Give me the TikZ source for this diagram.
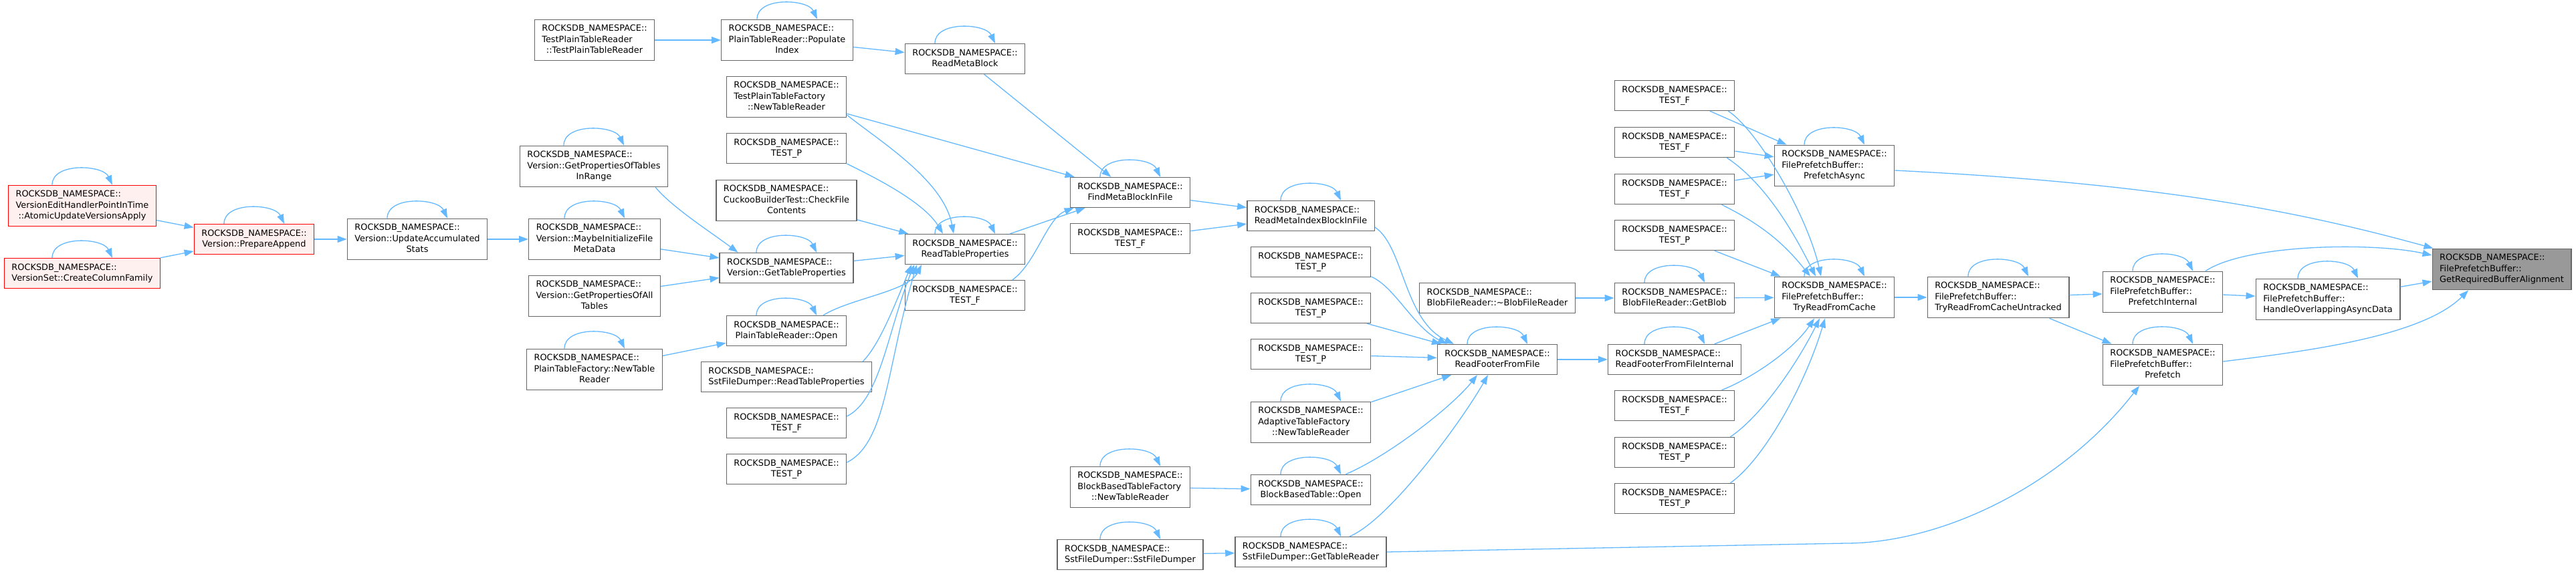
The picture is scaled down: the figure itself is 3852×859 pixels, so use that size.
\documentclass[tikz,border=0pt]{standalone}
\usepackage{fontspec}
\setmainfont{DejaVu Sans}
\usetikzlibrary{arrows.meta}
\definecolor{edgeblue}{HTML}{63B8FF}
\definecolor{boxgray}{HTML}{666666}
\definecolor{boxred}{HTML}{FF0000}
\definecolor{redfill}{HTML}{FFF0F0}
\definecolor{targetgray}{HTML}{999999}
\newcommand{\rns}{ROCKSDB\_NAMESPACE::}
\newcommand{\fnlabel}[2]{% {left lines}{centred last line}
  \begin{tabular}{@{}l@{}}#1\\\multicolumn{1}{@{}c@{}}{#2}\end{tabular}}
\newcommand{\selfloop}[1]{% {node}
  \draw[call] ([xshift=-45pt]#1.north) .. controls +(0,-34) and +(-14,-30) .. ([xshift=45pt]#1.north);}
\tikzset{
  fnbox/.style={draw=boxgray,line width=1.4pt,fill=white,inner xsep=11pt,inner ysep=6pt,
    font=\fontsize{12.9pt}{16.5pt}\selectfont},
  fnred/.style={fnbox,draw=boxred,fill=redfill},
  fntarget/.style={fnbox,fill=targetgray},
  call/.style={draw=edgeblue,line width=1.3pt,-{Triangle[length=14pt,width=10pt]}}
}

\begin{document}
\begin{tikzpicture}[x=1pt,y=-1pt]
  \useasboundingbox (0,0) rectangle (3852,859);
  % Version side
  \node[fnred] (avapply) at (123,308) {\fnlabel{\rns\\VersionEditHandlerPointInTime}{::AtomicUpdateVersionsApply}};
  \node[fnred] (createcf) at (123,409) {\fnlabel{\rns}{VersionSet::CreateColumnFamily}};
  \node[fnred] (prepapp) at (380,358) {\fnlabel{\rns}{Version::PrepareAppend}};
  \node[fnbox] (updstats) at (624,358) {\fnlabel{\rns\\Version::UpdateAccumulated}{Stats}};
  \node[fnbox] (testptr) at (889,60) {\fnlabel{\rns\\TestPlainTableReader}{::TestPlainTableReader}};
  \node[fnbox] (propsrange) at (888,249) {\fnlabel{\rns\\Version::GetPropertiesOfTables}{InRange}};
  \node[fnbox] (maybeinit) at (889,358) {\fnlabel{\rns\\Version::MaybeInitializeFile}{MetaData}};
  \node[fnbox] (propsall) at (889,443) {\fnlabel{\rns\\Version::GetPropertiesOfAll}{Tables}};
  \node[fnbox] (ptfnew) at (889,553) {\fnlabel{\rns\\PlainTableFactory::NewTable}{Reader}};
  % Table property readers
  \node[fnbox] (popindex) at (1177,60) {\fnlabel{\rns\\PlainTableReader::Populate}{Index}};
  \node[fnbox] (tptfnew) at (1176,145) {\fnlabel{\rns\\TestPlainTableFactory}{::NewTableReader}};
  \node[fnbox] (testpa) at (1176,222) {\fnlabel{\rns}{TEST\_P}};
  \node[fnbox] (checkfile) at (1176,300) {\fnlabel{\rns\\CuckooBuilderTest::CheckFile}{Contents}};
  \node[fnbox] (gettblprops) at (1176,401) {\fnlabel{\rns}{Version::GetTableProperties}};
  \node[fnbox] (ptropen) at (1176,495) {\fnlabel{\rns}{PlainTableReader::Open}};
  \node[fnbox] (sstreadprops) at (1176,564) {\fnlabel{\rns}{SstFileDumper::ReadTableProperties}};
  \node[fnbox] (testfa) at (1176,633) {\fnlabel{\rns}{TEST\_F}};
  \node[fnbox] (testpb) at (1176,702) {\fnlabel{\rns}{TEST\_P}};
  \node[fnbox] (readmeta) at (1443,88) {\fnlabel{\rns}{ReadMetaBlock}};
  \node[fnbox] (readtblprops) at (1443,373) {\fnlabel{\rns}{ReadTableProperties}};
  \node[fnbox] (testfb) at (1443,442) {\fnlabel{\rns}{TEST\_F}};
  % Meta blocks and footer
  \node[fnbox] (findmeta) at (1690,288) {\fnlabel{\rns}{FindMetaBlockInFile}};
  \node[fnbox] (testfc) at (1690,357) {\fnlabel{\rns}{TEST\_F}};
  \node[fnbox] (bbtfnew) at (1690,729) {\fnlabel{\rns\\BlockBasedTableFactory}{::NewTableReader}};
  \node[fnbox] (sstdumper) at (1690,830) {\fnlabel{\rns}{SstFileDumper::SstFileDumper}};
  \node[fnbox] (readmetaidx) at (1960,323) {\fnlabel{\rns}{ReadMetaIndexBlockInFile}};
  \node[fnbox] (testpc) at (1960,392) {\fnlabel{\rns}{TEST\_P}};
  \node[fnbox] (testpd) at (1960,461) {\fnlabel{\rns}{TEST\_P}};
  \node[fnbox] (testpe) at (1960,530) {\fnlabel{\rns}{TEST\_P}};
  \node[fnbox] (adaptive) at (1960,632) {\fnlabel{\rns\\AdaptiveTableFactory}{::NewTableReader}};
  \node[fnbox] (bbtopen) at (1960,733) {\fnlabel{\rns}{BlockBasedTable::Open}};
  \node[fnbox] (gettblreader) at (1960,826) {\fnlabel{\rns}{SstFileDumper::GetTableReader}};
  \node[fnbox] (blobdtor) at (2239,446) {\fnlabel{\rns}{BlobFileReader::\textasciitilde BlobFileReader}};
  \node[fnbox] (readfooter) at (2239,538) {\fnlabel{\rns}{ReadFooterFromFile}};
  % Prefetch buffer
  \node[fnbox] (testf1) at (2504,143) {\fnlabel{\rns}{TEST\_F}};
  \node[fnbox] (testf2) at (2504,213) {\fnlabel{\rns}{TEST\_F}};
  \node[fnbox] (testf3) at (2504,283) {\fnlabel{\rns}{TEST\_F}};
  \node[fnbox] (testp1) at (2504,352) {\fnlabel{\rns}{TEST\_P}};
  \node[fnbox] (getblob) at (2504,446) {\fnlabel{\rns}{BlobFileReader::GetBlob}};
  \node[fnbox] (readfooterint) at (2504,538) {\fnlabel{\rns}{ReadFooterFromFileInternal}};
  \node[fnbox] (testf4) at (2504,607) {\fnlabel{\rns}{TEST\_F}};
  \node[fnbox] (testp2) at (2504,677) {\fnlabel{\rns}{TEST\_P}};
  \node[fnbox] (testp3) at (2504,746) {\fnlabel{\rns}{TEST\_P}};
  \node[fnbox] (prefasync) at (2743,248) {\fnlabel{\rns\\FilePrefetchBuffer::}{PrefetchAsync}};
  \node[fnbox] (tryread) at (2743,445) {\fnlabel{\rns\\FilePrefetchBuffer::}{TryReadFromCache}};
  \node[fnbox] (tryreaduntr) at (2988,445) {\fnlabel{\rns\\FilePrefetchBuffer::}{TryReadFromCacheUntracked}};
  \node[fnbox] (prefint) at (3234,437) {\fnlabel{\rns\\FilePrefetchBuffer::}{PrefetchInternal}};
  \node[fnbox] (prefetch) at (3234,546) {\fnlabel{\rns\\FilePrefetchBuffer::}{Prefetch}};
  \node[fnbox] (overlap) at (3481,448) {\fnlabel{\rns\\FilePrefetchBuffer::}{HandleOverlappingAsyncData}};
  \node[fntarget] (bufalign) at (3741,403) {\fnlabel{\rns\\FilePrefetchBuffer::}{GetRequiredBufferAlignment}};

  % Recursive calls
  \foreach \n in {avapply,createcf,prepapp,updstats,propsrange,maybeinit,ptfnew,popindex,
    gettblprops,ptropen,readmeta,readtblprops,findmeta,readmetaidx,adaptive,bbtfnew,bbtopen,
    sstdumper,gettblreader,readfooter,getblob,readfooterint,prefasync,tryread,tryreaduntr,
    prefint,overlap,prefetch}
    {\selfloop{\n}}

  % Calls, left to right
  \draw[call] (avapply) -- (prepapp);
  \draw[call] (createcf) -- (prepapp);
  \draw[call] (prepapp) -- (updstats);
  \draw[call] (updstats) -- (maybeinit);
  \draw[call] (maybeinit) -- (gettblprops);
  \draw[call] ([xshift=-19pt]propsrange.south east) .. controls +(25,30) and +(-40,-30) .. ([xshift=28pt]gettblprops.north west);
  \draw[call] (propsall) -- (gettblprops);
  \draw[call] (ptfnew) -- (ptropen);
  \draw[call] (testptr) -- (popindex);
  \draw[call] (popindex) -- (readmeta);
  \draw[call] (readmeta) -- (findmeta);
  \draw[call] (tptfnew) -- (findmeta);
  \draw[call] ([yshift=-27pt]tptfnew.east) .. controls +(50,40) and +(-15,-80) .. ([xshift=-17pt]readtblprops.north);
  \draw[call] ([yshift=-23pt]testpa.east) .. controls +(30,15) and +(-30,-50) .. ([xshift=-33pt]readtblprops.north);
  \draw[call] (checkfile) -- (readtblprops);
  \draw[call] (gettblprops) -- (readtblprops);
  \draw[call] ([xshift=55pt]ptropen.north) .. controls +(40,-25) and +(-20,40) .. ([xshift=-65pt]readtblprops.south);
  \draw[call] ([xshift=-14pt]sstreadprops.north east) .. controls +(25,-25) and +(-25,60) .. ([xshift=-80pt]readtblprops.south);
  \draw[call] ([yshift=10pt]testfa.east) .. controls +(50,-25) and +(-40,100) .. ([xshift=-76pt]readtblprops.south);
  \draw[call] ([yshift=10pt]testpb.east) .. controls +(60,-30) and +(-45,150) .. ([xshift=-72pt]readtblprops.south);
  \draw[call] (readtblprops) -- (findmeta);
  \draw[call] ([xshift=71pt]testfb.north) .. controls +(35,-25) and +(-40,15) .. ([xshift=6pt]findmeta.south west);
  \draw[call] (findmeta) -- (readmetaidx);
  \draw[call] (testfc) -- (readmetaidx);
  \draw[call] ([yshift=-17pt]readmetaidx.east) .. controls +(43,28) and +(-75,-36) .. ([xshift=-65pt]readfooter.north);
  \draw[call] ([yshift=-22pt]testpc.east) .. controls +(35,15) and +(-50,-25) .. ([xshift=-75pt]readfooter.north);
  \draw[call] (testpd) -- (readfooter);
  \draw[call] (testpe) -- (readfooter);
  \draw[call] (adaptive) -- (readfooter);
  \draw[call] ([xshift=52pt]bbtopen.north) .. controls +(60,-25) and +(-40,50) .. ([xshift=-30pt]readfooter.south);
  \draw[call] ([xshift=58pt]gettblreader.north) .. controls +(60,-25) and +(-40,70) .. ([xshift=-14pt]readfooter.south);
  \draw[call] (bbtfnew) -- (bbtopen);
  \draw[call] (sstdumper) -- (gettblreader);
  \draw[call] (readfooter) -- (readfooterint);
  \draw[call] (blobdtor) -- (getblob);
  \draw[call] (getblob) -- (tryread);
  \draw[call] (readfooterint) -- (tryread);
  % Tests around the prefetch buffer
  \draw[call] (testf1) -- (prefasync);
  \draw[call] (testf2) -- (prefasync);
  \draw[call] (testf3) -- (prefasync);
  \draw[call] ([xshift=-10pt]testf1.south east) .. controls +(45,30) and +(-20,-90) .. ([xshift=-20pt]tryread.north);
  \draw[call] ([xshift=-12pt]testf2.south east) .. controls +(60,40) and +(-30,-60) .. ([xshift=-28pt]tryread.north);
  \draw[call] ([xshift=-20pt]testf3.south east) .. controls +(60,30) and +(-40,-50) .. ([xshift=-36pt]tryread.north);
  \draw[call] (testp1) -- (tryread);
  \draw[call] ([xshift=-20pt]testf4.north east) .. controls +(50,-20) and +(-30,45) .. ([xshift=-30pt]tryread.south);
  \draw[call] ([xshift=-7pt]testp2.north east) .. controls +(45,-30) and +(-35,70) .. ([xshift=-22pt]tryread.south);
  \draw[call] ([xshift=-7pt]testp3.north east) .. controls +(50,-35) and +(-30,100) .. ([xshift=-14pt]tryread.south);
  \draw[call] (tryread) -- (tryreaduntr);
  \draw[call] (tryreaduntr) -- (prefint);
  \draw[call] (tryreaduntr) -- (prefetch);
  \draw[call] (prefint) -- (overlap);
  \draw[call] ([xshift=64pt]prefint.north) .. controls +(60,-40) and +(-90,-20) .. ([yshift=21pt]bufalign.west);
  \draw[call] (overlap) -- (bufalign);
  \draw[call] ([yshift=5pt]prefetch.east) .. controls +(120,-15) and +(-70,70) .. ([xshift=-50pt]bufalign.south);
  \draw[call] ([yshift=-7pt]prefasync.east) .. controls +(400,20) and +(-200,-55) .. ([xshift=2pt]bufalign.north west);
  \draw[call] (gettblreader.east) -- (2760,813) .. controls (2900,813) and (3080,730) .. ([xshift=-35pt]prefetch.south);
\end{tikzpicture}
\end{document}
